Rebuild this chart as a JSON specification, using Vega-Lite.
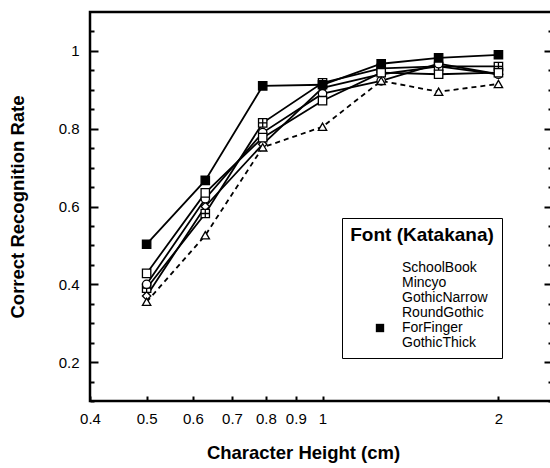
{
  "$schema": "https://vega.github.io/schema/vega-lite/v6.json",
  "autosize": "none",
  "width": 462,
  "height": 389,
  "padding": {"left": 90, "top": 12, "right": 0, "bottom": 67},
  "background": "white",
  "config": {
    "font": "Liberation Sans",
    "view": {"stroke": "black", "strokeWidth": 2.5},
    "legend": {"symbolStrokeColor": "black", "symbolStrokeWidth": 1.3},
    "axis": {"domain": false, "grid": false, "labelFont": "Liberation Sans", "labelColor": "black", "titleColor": "black", "tickColor": "black", "titleFont": "Liberation Sans", "titleFontWeight": "bold", "titleFontSize": 18.5, "labelFontSize": 15, "labelFlush": false, "labelOverlap": false}
  },
  "data": {"values": [
    {"font": "SchoolBook", "height": 0.5, "rate": 0.37},
    {"font": "SchoolBook", "height": 0.63, "rate": 0.6},
    {"font": "SchoolBook", "height": 0.79, "rate": 0.76},
    {"font": "SchoolBook", "height": 1.0, "rate": 0.905},
    {"font": "SchoolBook", "height": 1.26, "rate": 0.94},
    {"font": "SchoolBook", "height": 1.58, "rate": 0.96},
    {"font": "SchoolBook", "height": 2.0, "rate": 0.94},
    {"font": "Mincyo", "height": 0.5, "rate": 0.39},
    {"font": "Mincyo", "height": 0.63, "rate": 0.582},
    {"font": "Mincyo", "height": 0.79, "rate": 0.815},
    {"font": "Mincyo", "height": 1.0, "rate": 0.918},
    {"font": "Mincyo", "height": 1.26, "rate": 0.955},
    {"font": "Mincyo", "height": 1.58, "rate": 0.96},
    {"font": "Mincyo", "height": 2.0, "rate": 0.96},
    {"font": "GothicNarrow", "height": 0.5, "rate": 0.4},
    {"font": "GothicNarrow", "height": 0.63, "rate": 0.62},
    {"font": "GothicNarrow", "height": 0.79, "rate": 0.79},
    {"font": "GothicNarrow", "height": 1.0, "rate": 0.89},
    {"font": "GothicNarrow", "height": 1.26, "rate": 0.923},
    {"font": "GothicNarrow", "height": 1.58, "rate": 0.967},
    {"font": "GothicNarrow", "height": 2.0, "rate": 0.94},
    {"font": "RoundGothic", "height": 0.5, "rate": 0.428},
    {"font": "RoundGothic", "height": 0.63, "rate": 0.635},
    {"font": "RoundGothic", "height": 0.79, "rate": 0.777},
    {"font": "RoundGothic", "height": 1.0, "rate": 0.872},
    {"font": "RoundGothic", "height": 1.26, "rate": 0.944},
    {"font": "RoundGothic", "height": 1.58, "rate": 0.94},
    {"font": "RoundGothic", "height": 2.0, "rate": 0.944},
    {"font": "ForFinger", "height": 0.5, "rate": 0.503},
    {"font": "ForFinger", "height": 0.63, "rate": 0.667},
    {"font": "ForFinger", "height": 0.79, "rate": 0.91},
    {"font": "ForFinger", "height": 1.0, "rate": 0.913},
    {"font": "ForFinger", "height": 1.26, "rate": 0.967},
    {"font": "ForFinger", "height": 1.58, "rate": 0.982},
    {"font": "ForFinger", "height": 2.0, "rate": 0.99},
    {"font": "GothicThick", "height": 0.5, "rate": 0.355},
    {"font": "GothicThick", "height": 0.63, "rate": 0.526},
    {"font": "GothicThick", "height": 0.79, "rate": 0.752},
    {"font": "GothicThick", "height": 1.0, "rate": 0.805},
    {"font": "GothicThick", "height": 1.26, "rate": 0.923},
    {"font": "GothicThick", "height": 1.58, "rate": 0.895},
    {"font": "GothicThick", "height": 2.0, "rate": 0.915}
  ]},
  "layer": [
    {
      "mark": {"type": "point", "opacity": 0, "size": 1},
      "encoding": {
        "x": {"field": "height", "type": "quantitative",
          "scale": {"type": "log", "domain": [0.4, 2.47], "nice": false, "zero": false},
          "axis": {"title": "Character Height (cm)", "values": [0.4, 0.5, 0.6, 0.7, 0.8, 0.9, 1, 2],
            "labelExpr": "format(datum.value, '~g')",
            "tickSize": -5, "tickWidth": 2, "labelPadding": 15, "titlePadding": 17, "titleX": 213}},
        "y": {"field": "rate", "type": "quantitative",
          "scale": {"domain": [0.1, 1.1], "nice": false, "zero": false},
          "axis": {"orient": "left", "title": null, "labels": false,
            "values": [0.1, 0.15, 0.25, 0.3, 0.35, 0.45, 0.5, 0.55, 0.65, 0.7, 0.75, 0.85, 0.9, 0.95, 1.05],
            "tickSize": -4, "tickWidth": 2}}
      }
    },
    {
      "mark": {"type": "point", "opacity": 0, "size": 1},
      "encoding": {
        "x": {"field": "height", "type": "quantitative"},
        "y": {"field": "rate", "type": "quantitative",
          "axis": {"orient": "right", "title": null, "labels": false,
            "values": [0.1, 0.15, 0.25, 0.3, 0.35, 0.45, 0.5, 0.55, 0.65, 0.7, 0.75, 0.85, 0.9, 0.95, 1.05],
            "tickSize": -4, "tickWidth": 2}}
      }
    },
    {
      "transform": [{"filter": "datum.font !== 'GothicThick'"}],
      "mark": {"type": "line", "color": "black", "strokeWidth": 1.8},
      "encoding": {
        "x": {"field": "height", "type": "quantitative"},
        "y": {"field": "rate", "type": "quantitative",
          "axis": {"orient": "left", "title": "Correct Recognition Rate",
            "values": [0.2, 0.4, 0.6, 0.8, 1.0],
            "labelExpr": "format(datum.value, '~g')",
            "tickSize": -8, "tickWidth": 2, "labelPadding": 19, "titlePadding": 31}},
        "detail": {"field": "font", "type": "nominal"}
      }
    },
    {
      "transform": [{"filter": "datum.font === 'GothicThick'"}],
      "mark": {"type": "line", "color": "black", "strokeWidth": 1.8, "strokeDash": [5, 4]},
      "encoding": {
        "x": {"field": "height", "type": "quantitative"},
        "y": {"field": "rate", "type": "quantitative", "axis": null}
      }
    },
    {
      "mark": {"type": "point", "filled": false, "size": 70, "stroke": "black", "strokeWidth": 1.3, "opacity": 1},
      "encoding": {
        "x": {"field": "height", "type": "quantitative"},
        "y": {"field": "rate", "type": "quantitative",
          "axis": {"orient": "right", "title": null, "labels": false,
            "values": [0.2, 0.4, 0.6, 0.8, 1.0], "tickSize": -8, "tickWidth": 2}},
        "fill": {"field": "font", "type": "nominal",
          "scale": {"domain": ["SchoolBook", "Mincyo", "GothicNarrow", "RoundGothic", "ForFinger", "GothicThick"],
            "range": ["white", "white", "white", "white", "black", "white"]},
          "legend": {
            "title": "Font (Katakana)", "orient": "none", "legendX": 252, "legendY": 206,
            "titleFontSize": 19, "titleFont": "Liberation Sans", "titleFontWeight": "bold", "titleColor": "black", "titleAnchor": "middle", "titlePadding": 16,
            "labelFontSize": 14, "labelFont": "Liberation Sans", "labelColor": "black",
            "strokeColor": "black", "padding": 8, "fillColor": "white",
            "symbolSize": 70, "symbolOffset": 17, "labelOffset": 15, "rowPadding": 1,
            "symbolStrokeColor": "black", "symbolStrokeWidth": 1.3,
            "encode": {"symbols": {"stroke": {"value": "black"}, "strokeWidth": {"value": 1.3}}}}},
        "shape": {"field": "font", "type": "nominal",
          "scale": {"domain": ["SchoolBook", "Mincyo", "GothicNarrow", "RoundGothic", "ForFinger", "GothicThick"],
            "range": ["diamond", "M-1,-1H1V1H-1Z M0,-1V1 M-1,0H1", "circle", "square", "square", "triangle-up"]},
          "legend": {
            "title": "Font (Katakana)", "orient": "none", "legendX": 252, "legendY": 206,
            "titleFontSize": 19, "titleFont": "Liberation Sans", "titleFontWeight": "bold", "titleColor": "black", "titleAnchor": "middle", "titlePadding": 16,
            "labelFontSize": 14, "labelFont": "Liberation Sans", "labelColor": "black",
            "strokeColor": "black", "padding": 8, "fillColor": "white",
            "symbolSize": 70, "symbolOffset": 17, "labelOffset": 15, "rowPadding": 1,
            "symbolStrokeColor": "black", "symbolStrokeWidth": 1.3,
            "encode": {"symbols": {"stroke": {"value": "black"}, "strokeWidth": {"value": 1.3}}}}}
      }
    }
  ],
  "resolve": {"axis": {"y": "independent"}}
}
